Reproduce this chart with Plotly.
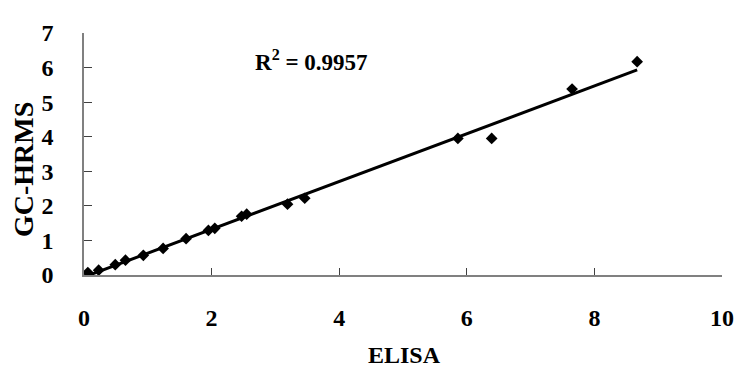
import numpy as np
import plotly.graph_objects as go

elisa = [0.06, 0.23, 0.49, 0.65, 0.93, 1.24, 1.60, 1.95, 2.05, 2.47, 2.55, 3.19, 3.46, 5.86, 6.39, 7.65, 8.67]
gchrms = [0.07, 0.14, 0.30, 0.43, 0.57, 0.77, 1.05, 1.29, 1.35, 1.70, 1.76, 2.05, 2.22, 3.95, 3.95, 5.38, 6.17]
x_ticks = [0, 2, 4, 6, 8, 10]
y_ticks = [0, 1, 2, 3, 4, 5, 6, 7]
r2_text = "R<sup>2</sup> = 0.9957"
x_title = "ELISA"
y_title = "GC-HRMS"

slope, intercept = np.polyfit(elisa, gchrms, 1)
line_x = [min(elisa), max(elisa)]
line_y = [slope * v + intercept for v in line_x]

FONT = "Liberation Serif"
# page body has an 8px default margin; compensate so the plot sits where the reference does
OFF = 8
W, H = 746 - OFF, 371 - OFF

fig = go.Figure()
fig.add_trace(go.Scatter(x=elisa, y=gchrms, mode="markers",
                         marker=dict(symbol="diamond", size=9, color="black"),
                         showlegend=False))
fig.add_trace(go.Scatter(x=line_x, y=line_y, mode="lines",
                         line=dict(color="black", width=3), showlegend=False))

fig.add_annotation(x=0.356, xref="paper", y=0.885, yref="paper", text="<b>" + r2_text + "</b>",
                   showarrow=False, xanchor="center", yanchor="middle",
                   font=dict(family=FONT, size=23, color="black"))
fig.add_annotation(x=0.502, xref="paper", y=-0.33, yref="paper", text="<b>" + x_title + "</b>",
                   showarrow=False, xanchor="center", yanchor="middle",
                   font=dict(family=FONT, size=24, color="black"))
fig.add_annotation(x=-0.096, xref="paper", y=0.437, yref="paper", text="<b>" + y_title + "</b>",
                   showarrow=False, xanchor="center", yanchor="middle", textangle=-90,
                   font=dict(family=FONT, size=28, color="black"))

fig.update_layout(
    width=W, height=H,
    margin=dict(l=84 - OFF, r=16, t=23 - OFF, b=96),
    paper_bgcolor="white", plot_bgcolor="white",
    font=dict(family=FONT, color="black"),
)
fig.update_xaxes(range=[0, 10], tickvals=x_ticks, ticktext=[f"<b>{v}</b>" for v in x_ticks],
                 showgrid=False, zeroline=False, showline=True, linecolor="#808080", linewidth=1.5,
                 ticks="inside", ticklen=7, tickcolor="#404040", tickwidth=1,
                 tickfont=dict(family=FONT, size=24, color="black"), ticklabelstandoff=20)
fig.update_yaxes(range=[0, 7], tickvals=y_ticks, ticktext=[f"<b>{v}</b>" for v in y_ticks],
                 showgrid=False, zeroline=False, showline=True, linecolor="#808080", linewidth=1.5,
                 ticks="inside", ticklen=8, tickcolor="#404040", tickwidth=1,
                 tickfont=dict(family=FONT, size=24, color="black"), ticklabelstandoff=24)

fig.write_html("out.html")
